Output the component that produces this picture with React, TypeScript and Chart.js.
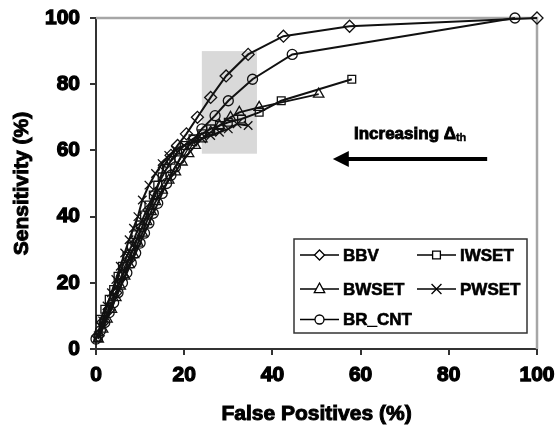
import React, { useEffect, useRef } from 'react';
import { Chart, registerables } from 'chart.js';

Chart.register(...registerables);

// ---------- data ----------
const SERIES_NAMES = ['BBV', 'IWSET', 'BWSET', 'PWSET', 'BR_CNT'];
const X_TICKS = [0, 20, 40, 60, 80, 100];
const Y_TICKS = [0, 20, 40, 60, 80, 100];
const X_TITLE = 'False Positives (%)';
const Y_TITLE = 'Sensitivity (%)';

const BBV_X = [0.5, 1.5, 3, 4.5, 6, 7.5, 9, 10.5, 12, 13.5, 15.5, 17, 18.5, 20.5, 23, 26, 29.5, 34.5, 42.5, 57.5, 100];
const BBV_Y = [4, 8, 12, 17, 22, 27, 32, 37, 42, 47, 55.5, 58.5, 61.5, 65, 70, 76, 82.5, 89, 94.5, 97.5, 100];

const IWSET_X = [0.5, 1, 2, 3, 4, 5, 6, 7, 8, 9, 10, 11, 12, 13, 14, 15, 16, 17, 18.5, 20, 22, 24, 26, 28, 30, 33, 37, 42, 58];
const IWSET_Y = [3.5, 9, 12, 15, 18, 22, 25, 28, 31, 34.5, 37.5, 40.5, 43.5, 46.5, 49.5, 52, 54.5, 57, 59.5, 61.5, 63.5, 65, 66.5, 67.5, 68.5, 69.5, 71.5, 75, 81.5];

const BWSET_X = [0.5, 1.5, 2.5, 3.5, 4.5, 5.5, 6.5, 7.5, 8.5, 9.5, 10.5, 11.5, 12.5, 13.5, 15, 16.5, 18, 19.5, 21, 22.5, 24, 26, 28, 30.5, 32.5, 37, 50.5];
const BWSET_Y = [3, 6, 9, 12, 15.5, 19, 22, 25.5, 28.5, 32, 35, 38.5, 41.5, 44.5, 48, 51, 53.5, 56.5, 59, 61.5, 63.5, 65.5, 67.5, 70, 71.5, 73, 77];

const PWSET_X = [0.5, 1.5, 2.5, 3.5, 4.5, 5.5, 6.5, 7.5, 8.5, 9.5, 10.5, 12, 13.5, 15, 16.5, 18, 20, 22, 24, 26, 28, 30, 32, 34.5];
const PWSET_Y = [4, 8.5, 13, 17, 21, 25, 29, 33, 36.5, 40, 45, 49.5, 53, 56, 58.5, 60, 61.5, 62.5, 63.5, 64.5, 65.5, 66.5, 68, 67.5];

const BRCNT_X = [0, 1, 2, 3, 4, 5, 6, 7, 8, 9, 10, 11, 12, 13, 14, 15, 16, 17, 18, 19, 20, 22, 24, 27, 30, 35.5, 44.5, 95];
const BRCNT_Y = [3, 5.5, 8, 11, 14, 17, 20, 23, 26, 29, 32, 35, 38, 41, 44, 47, 50, 52.5, 55, 57.5, 60, 63, 66.5, 70.5, 75, 81.5, 89, 100];

// annotation (data units)
const BOX_X = [24, 36.5];
const BOX_Y = [59, 90];
const ARROW_X = [88.7, 53.7];
const ARROW_Y = 57.4;
const NOTE_X = 58.5;
const NOTE_Y = 65;

const STYLES = ['rectRot', 'rect', 'triangle', 'crossRot', 'circle'];
const RADII = [6, 5.5, 6, 6, 5];
const LEGEND_RADII = [5, 5.5, 6, 7, 4.5];

const FONT = "'Liberation Sans', Arial, sans-serif";

function toPts(xs: number[], ys: number[]) {
  return xs.map((x, i) => ({ x, y: ys[i] }));
}

function drawMarker(ctx: CanvasRenderingContext2D, style: string, x: number, y: number, r: number) {
  ctx.beginPath();
  if (style === 'rectRot') {
    ctx.moveTo(x, y - r); ctx.lineTo(x + r, y); ctx.lineTo(x, y + r); ctx.lineTo(x - r, y); ctx.closePath();
  } else if (style === 'rect') {
    const s = r * Math.SQRT1_2;
    ctx.rect(x - s, y - s, 2 * s, 2 * s);
  } else if (style === 'triangle') {
    ctx.moveTo(x, y - r); ctx.lineTo(x + r * 0.87, y + r * 0.6); ctx.lineTo(x - r * 0.87, y + r * 0.6); ctx.closePath();
  } else if (style === 'crossRot') {
    const s = r * Math.SQRT1_2;
    ctx.moveTo(x - s, y - s); ctx.lineTo(x + s, y + s); ctx.moveTo(x + s, y - s); ctx.lineTo(x - s, y + s);
  } else {
    ctx.arc(x, y, r, 0, Math.PI * 2);
  }
  if (style !== 'crossRot') { ctx.fillStyle = '#fff'; ctx.fill(); }
  ctx.stroke();
}

function heavyText(ctx: CanvasRenderingContext2D, text: string, x: number, y: number, sw: number) {
  ctx.fillText(text, x, y);
  ctx.lineWidth = sw;
  ctx.strokeText(text, x, y);
}

const annotationPlugin = {
  id: 'annot',
  beforeDatasetsDraw(chart: any) {
    const { ctx, scales: { x, y }, chartArea } = chart;
    ctx.save();
    // shaded box
    const x0 = x.getPixelForValue(BOX_X[0]);
    const x1 = x.getPixelForValue(BOX_X[1]);
    const y0 = y.getPixelForValue(BOX_Y[1]);
    const y1 = y.getPixelForValue(BOX_Y[0]);
    ctx.fillStyle = '#d9d9d9';
    ctx.fillRect(x0, y0, x1 - x0, y1 - y0);
    // top and right border
    ctx.strokeStyle = '#a6a6a6';
    ctx.lineWidth = 2.5;
    ctx.beginPath();
    ctx.moveTo(chartArea.left, chartArea.top);
    ctx.lineTo(chartArea.right, chartArea.top);
    ctx.lineTo(chartArea.right, chartArea.bottom);
    ctx.stroke();
    // arrow
    const ay = y.getPixelForValue(ARROW_Y);
    const ax0 = x.getPixelForValue(ARROW_X[0]);
    const ax1 = x.getPixelForValue(ARROW_X[1]);
    ctx.strokeStyle = '#000';
    ctx.lineWidth = 4;
    ctx.beginPath();
    ctx.moveTo(ax0, ay);
    ctx.lineTo(ax1 + 12, ay);
    ctx.stroke();
    ctx.fillStyle = '#000';
    ctx.beginPath();
    ctx.moveTo(ax1, ay);
    ctx.lineTo(ax1 + 16, ay - 8);
    ctx.lineTo(ax1 + 16, ay + 8);
    ctx.closePath();
    ctx.fill();
    // note text
    const tx = x.getPixelForValue(NOTE_X);
    const ty = y.getPixelForValue(NOTE_Y);
    ctx.textBaseline = 'middle';
    ctx.textAlign = 'left';
    ctx.font = `bold 17px ${FONT}`;
    ctx.strokeStyle = '#000';
    const main = 'Increasing ';
    heavyText(ctx, main, tx, ty, 0.9);
    let w = ctx.measureText(main).width;
    heavyText(ctx, 'Δ', tx + w, ty, 0.9);
    w += ctx.measureText('Δ').width;
    ctx.font = `bold 11px ${FONT}`;
    heavyText(ctx, 'th', tx + w, ty + 4, 0.4);
    ctx.restore();
  },
  afterDraw(chart: any) {
    const { ctx, chartArea } = chart;
    ctx.save();
    // axis titles
    ctx.fillStyle = '#000';
    ctx.strokeStyle = '#000';
    ctx.font = `bold 21px ${FONT}`;
    ctx.textAlign = 'center';
    ctx.textBaseline = 'middle';
    heavyText(ctx, X_TITLE, (chartArea.left + chartArea.right) / 2, 414, 1);
    ctx.save();
    ctx.translate(22, (chartArea.top + chartArea.bottom) / 2);
    ctx.rotate(-Math.PI / 2);
    heavyText(ctx, Y_TITLE, 0, 0, 1);
    ctx.restore();
    // legend
    const bx = 294, by = 239, bw = 233, bh = 94;
    ctx.fillStyle = '#fff';
    ctx.fillRect(bx, by, bw, bh);
    ctx.strokeStyle = '#333';
    ctx.lineWidth = 1.5;
    ctx.strokeRect(bx, by, bw, bh);
    const rows = [16, 16, 50, 50, 80.5];
    const cols = [0, 1, 0, 1, 0];
    ctx.font = `bold 17px ${FONT}`;
    ctx.textBaseline = 'middle';
    ctx.textAlign = 'left';
    chart.data.datasets.forEach((ds: any, i: number) => {
      const cy = by + rows[i];
      const lx0 = bx + (cols[i] ? 123 : 6);
      const lx1 = lx0 + 39;
      const mx = (lx0 + lx1) / 2;
      ctx.strokeStyle = '#000';
      ctx.lineWidth = 1.3;
      ctx.beginPath();
      ctx.moveTo(lx0, cy);
      ctx.lineTo(lx1, cy);
      ctx.stroke();
      drawMarker(ctx, STYLES[i], mx, cy, LEGEND_RADII[i]);
      ctx.fillStyle = '#000';
      heavyText(ctx, ds.label, lx1 + 4, cy + 1, 0.6);
    });
    ctx.restore();
  },
};

export default function App() {
  const ref = useRef<HTMLCanvasElement>(null);
  useEffect(() => {
    if (!ref.current) return;
    const xs = [BBV_X, IWSET_X, BWSET_X, PWSET_X, BRCNT_X];
    const ys = [BBV_Y, IWSET_Y, BWSET_Y, PWSET_Y, BRCNT_Y];
    const datasets = SERIES_NAMES.map((name, i) => ({
      label: name,
      data: toPts(xs[i], ys[i]),
      showLine: true,
      borderColor: '#111',
      borderWidth: 2,
      pointStyle: STYLES[i],
      pointRadius: RADII[i],
      pointBorderWidth: 1.3,
      pointBorderColor: '#111',
      pointBackgroundColor: 'rgba(0,0,0,0)',
      clip: false,
      tension: 0,
    }));
    const chart = new Chart(ref.current, {
      type: 'scatter',
      data: { datasets },
      plugins: [annotationPlugin],
      options: {
        animation: false,
        responsive: false,
        events: [],
        layout: { padding: { left: 0, right: 18, top: 18, bottom: 0 } },
        plugins: { legend: { display: false }, tooltip: { enabled: false } },
        scales: {
          x: {
            type: 'linear',
            min: 0,
            max: 100,
            afterFit: (s: any) => { s.height = 85; s.paddingLeft = 0; s.paddingRight = 0; },
            afterBuildTicks: (s: any) => { s.ticks = X_TICKS.map((v) => ({ value: v })); },
            ticks: {
              font: { family: FONT, size: 21, weight: 'bold' },
              color: '#000',
              padding: 7.4,
              textStrokeColor: '#000',
              textStrokeWidth: 1.3,
            },
            grid: { drawOnChartArea: false, drawTicks: true, tickLength: 6, color: '#333', lineWidth: 2 },
            border: { color: '#333', width: 2 },
          },
          y: {
            type: 'linear',
            min: 0,
            max: 100,
            afterFit: (s: any) => { s.width = 96; s.paddingTop = 0; s.paddingBottom = 0; },
            afterBuildTicks: (s: any) => { s.ticks = Y_TICKS.map((v) => ({ value: v })); },
            ticks: {
              font: { family: FONT, size: 21, weight: 'bold' },
              color: '#000',
              padding: 10,
              textStrokeColor: '#000',
              textStrokeWidth: 1.3,
            },
            grid: { drawOnChartArea: false, drawTicks: true, tickLength: 6, color: '#333', lineWidth: 2 },
            border: { color: '#333', width: 2 },
          },
        },
      } as any,
    });
    return () => chart.destroy();
  }, []);
  return (
    <div style={{ position: 'absolute', left: 0, top: 0, width: 555, height: 434 }}>
      <canvas ref={ref} width={555} height={434} style={{ display: 'block' }} />
    </div>
  );
}
